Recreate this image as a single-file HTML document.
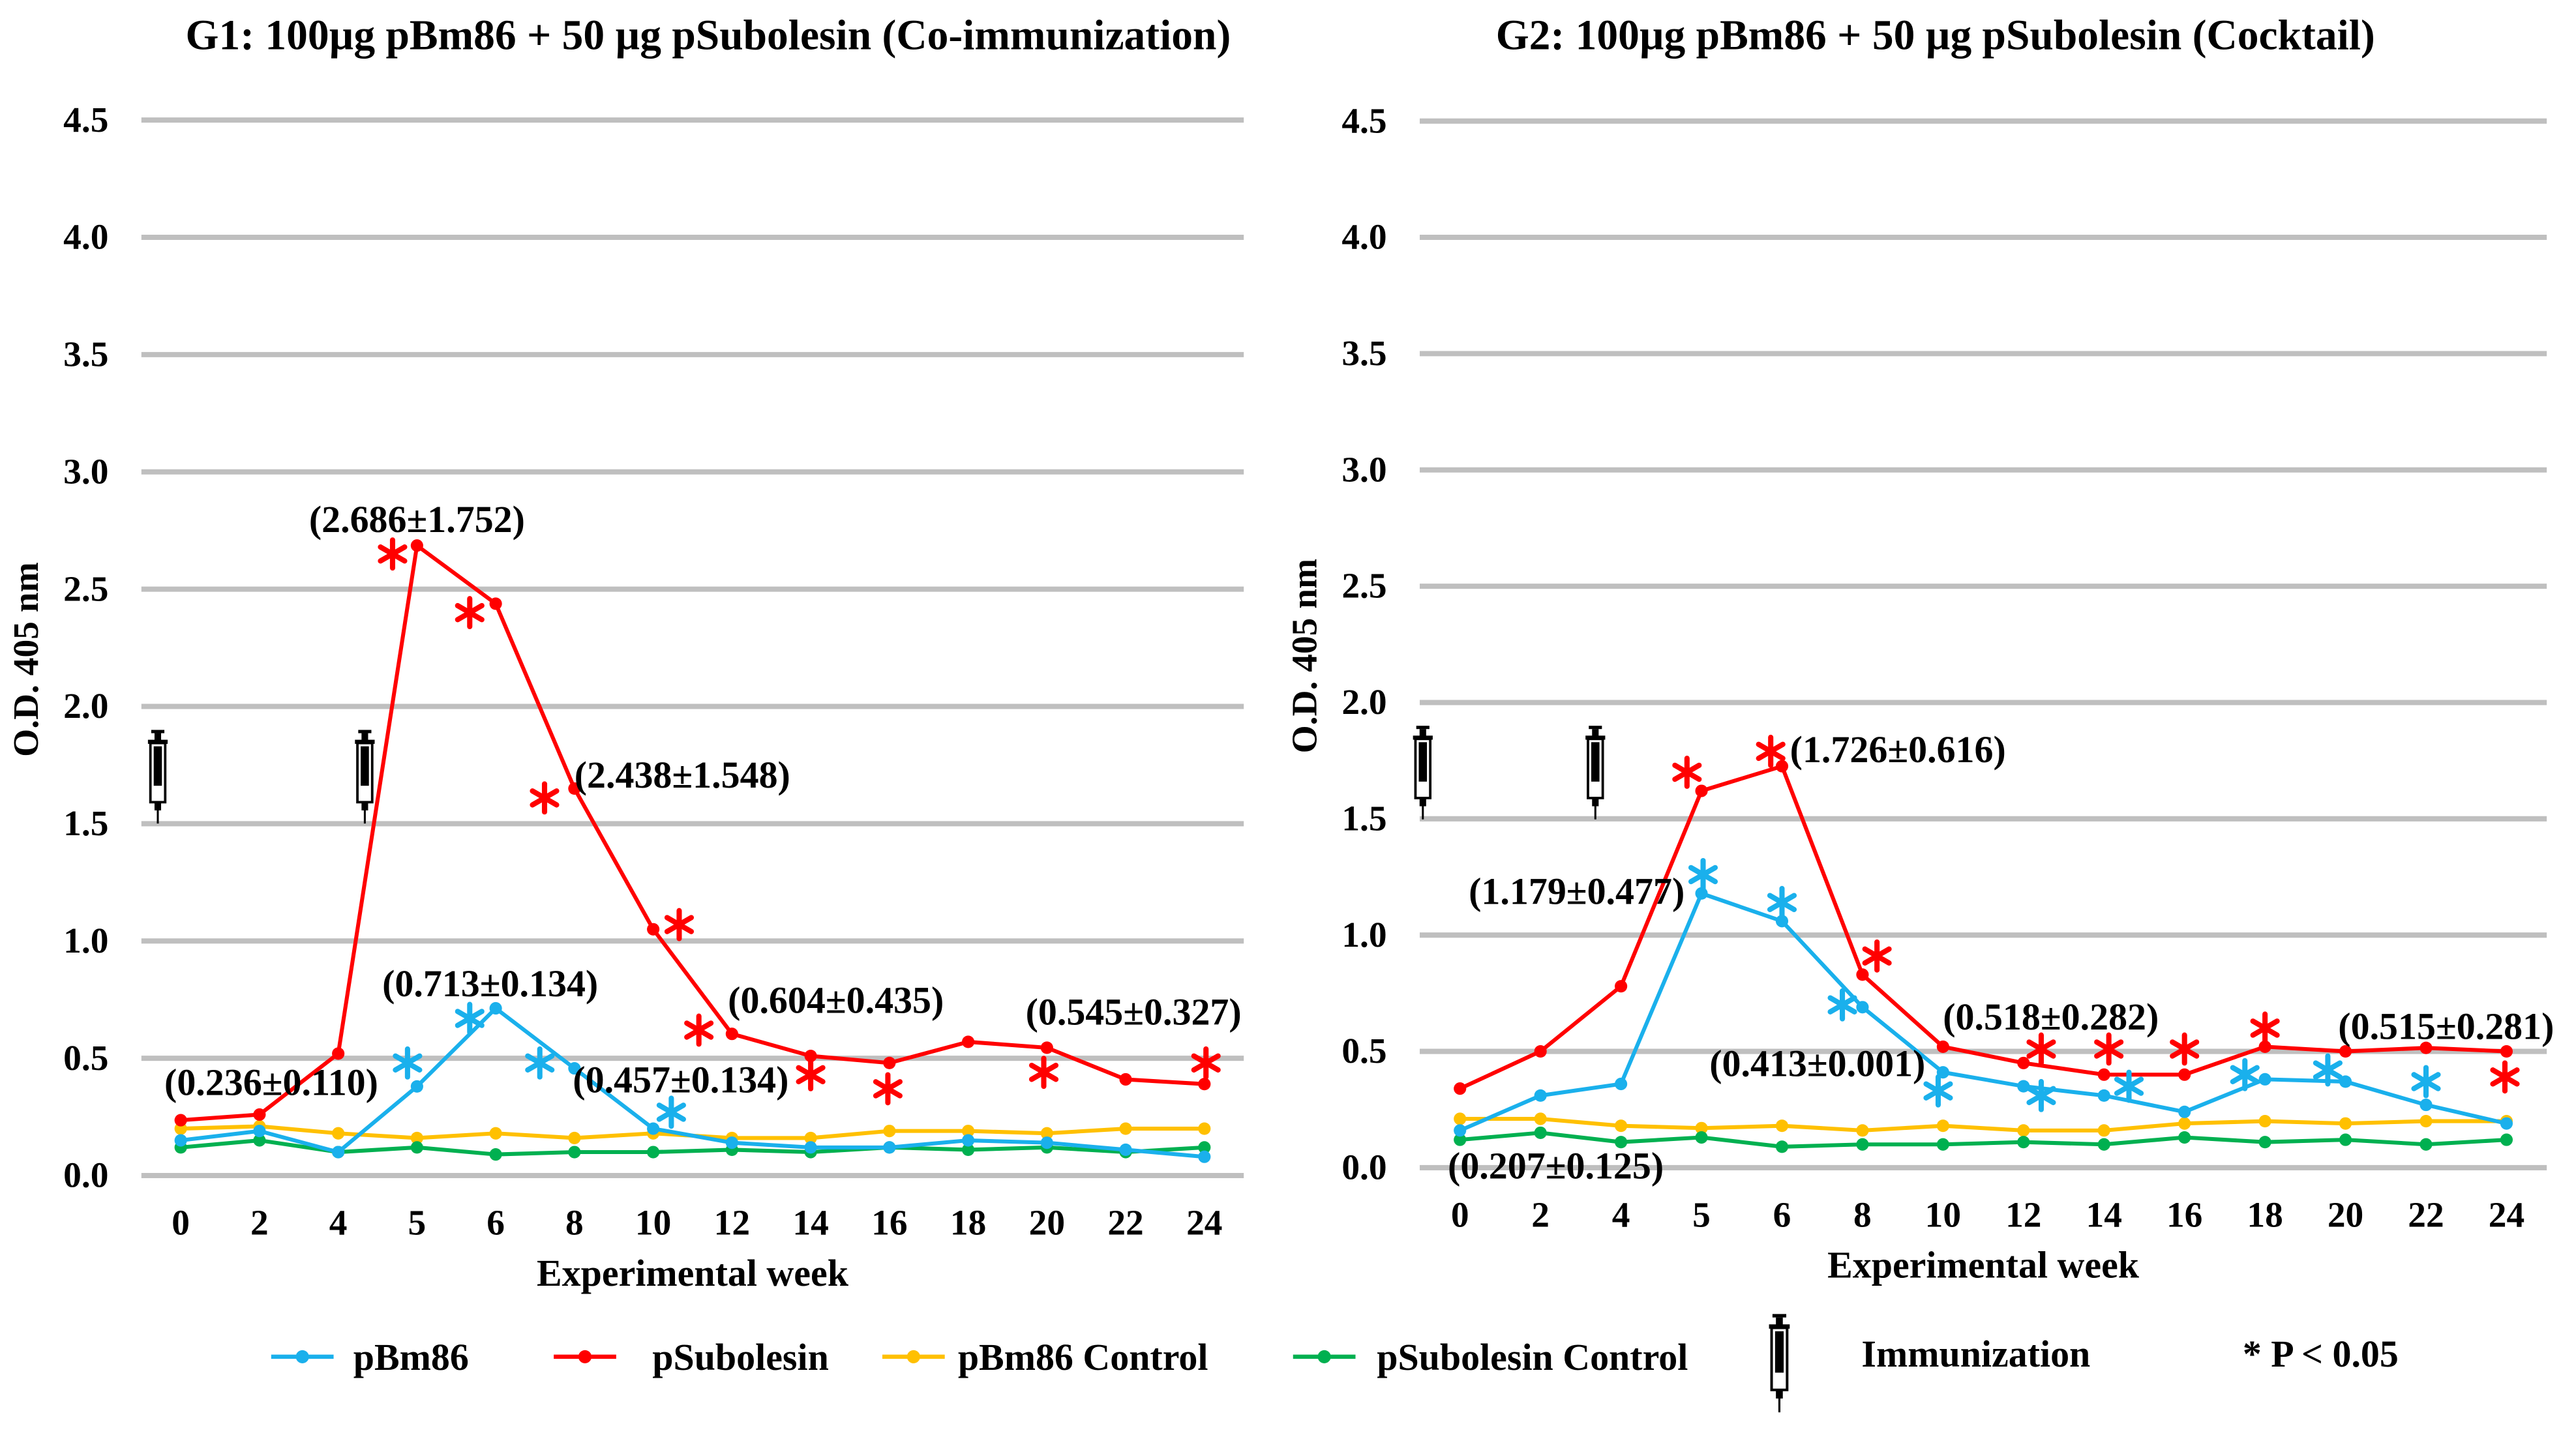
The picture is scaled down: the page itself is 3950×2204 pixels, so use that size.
<!DOCTYPE html>
<html><head><meta charset="utf-8"><style>
html,body{margin:0;padding:0;background:#fff;}
svg{display:block;font-family:"Liberation Serif",serif;font-weight:bold;}
</style></head><body>
<svg id="chart" xmlns="http://www.w3.org/2000/svg" width="3950" height="2204" viewBox="0 0 1560 870.5">
<g id="root" transform="scale(0.995)"></g>
</svg>
<script>
const weeks = ["0","2","4","5","6","8","10","12","14","16","18","20","22","24"];
const yTicks = [0,0.5,1,1.5,2,2.5,3,3.5,4,4.5];
const g1Bm86 = [0.15,0.19,0.10,0.38,0.713,0.457,0.20,0.14,0.12,0.12,0.15,0.14,0.11,0.08];
const g1Sub = [0.236,0.26,0.52,2.686,2.438,1.65,1.05,0.604,0.51,0.48,0.57,0.545,0.41,0.39];
const g1Bm86Ctl = [0.20,0.21,0.18,0.16,0.18,0.16,0.18,0.16,0.16,0.19,0.19,0.18,0.20,0.20];
const g1SubCtl = [0.12,0.15,0.10,0.12,0.09,0.10,0.10,0.11,0.10,0.12,0.11,0.12,0.10,0.12];
const g2Bm86 = [0.16,0.31,0.36,1.179,1.06,0.69,0.41,0.35,0.31,0.24,0.38,0.37,0.27,0.19];
const g2Sub = [0.34,0.50,0.78,1.62,1.726,0.83,0.52,0.45,0.40,0.40,0.52,0.50,0.515,0.50];
const g2Bm86Ctl = [0.21,0.21,0.18,0.17,0.18,0.16,0.18,0.16,0.16,0.19,0.20,0.19,0.20,0.20];
const g2SubCtl = [0.12,0.15,0.11,0.13,0.09,0.10,0.10,0.11,0.10,0.13,0.11,0.12,0.10,0.12];
// asterisk annotations: [category position, value]
const g1RedStars = [[2.69,2.65],[3.67,2.40],[4.62,1.61],[6.33,1.07],[6.58,0.62],[8,0.43],[8.98,0.37],[10.96,0.44],[13.02,0.48]];
const g1BlueStars = [[2.88,0.48],[3.67,0.67],[4.56,0.48],[6.23,0.27]];
const g2RedStars = [[2.82,1.70],[3.86,1.79],[5.18,0.91],[7.22,0.51],[8.06,0.51],[9,0.51],[10,0.60],[12.98,0.39]];
const g2BlueStars = [[3.02,1.26],[4,1.14],[4.75,0.70],[5.94,0.33],[7.22,0.31],[8.31,0.35],[9.75,0.40],[10.78,0.42],[12,0.37]];
const g1Labels = [[1.15,0.40,"(0.236±0.110)"],[3.0,2.80,"(2.686±1.752)"],[6.37,1.71,"(2.438±1.548)"],[3.93,0.82,"(0.713±0.134)"],[6.35,0.41,"(0.457±0.134)"],[8.32,0.75,"(0.604±0.435)"],[12.1,0.70,"(0.545±0.327)"]];
const g2Labels = [[1.19,0.01,"(0.207±0.125)"],[5.44,1.80,"(1.726±0.616)"],[1.45,1.19,"(1.179±0.477)"],[4.44,0.45,"(0.413±0.001)"],[7.34,0.65,"(0.518±0.282)"],[12.25,0.61,"(0.515±0.281)"]];

const NS="http://www.w3.org/2000/svg";
const root=document.getElementById('root');
function el(tag,attrs,parent,text){const e=document.createElementNS(NS,tag);for(const k in attrs)e.setAttribute(k,attrs[k]);if(text!==undefined)e.textContent=text;(parent||root).appendChild(e);return e;}
const COL={blue:"#1ab0ec",red:"#ff0000",yellow:"#ffc000",green:"#00b050"};

function syringe(x,y,parent,s){
  s=s||1;
  const g=el('g',{transform:`translate(${x},${y}) scale(${s})`},parent);
  
  
  el('rect',{x:-4,y:0,width:8,height:2,fill:"#000"},g);
  el('rect',{x:-2,y:2,width:4,height:5,fill:"#000"},g);
  el('rect',{x:-6,y:6,width:12,height:2.5,fill:"#000"},g);
  el('rect',{x:-4.5,y:8,width:9,height:36,fill:"#fff",stroke:"#000","stroke-width":1.5},g);
  el('rect',{x:-2.5,y:10,width:5,height:24,fill:"#000"},g);
  el('rect',{x:-2,y:44,width:4,height:5,fill:"#000"},g);
  el('rect',{x:-0.6,y:48,width:1.2,height:9,fill:"#000"},g);
}
function asterisk(cx,cy,c,parent){
  const g=el('g',{transform:`translate(${cx},${cy})`},parent);
  
  
  for(let k=0;k<3;k++){
    const a=Math.PI/2+k*Math.PI/3, r=8.5;
    el('line',{x1:-r*Math.cos(a),y1:-r*Math.sin(a),x2:r*Math.cos(a),y2:r*Math.sin(a),stroke:c,"stroke-width":3.2,"stroke-linecap":"round"},g);
  }
}

function panel(cfg){
  const g=el('g',{});
  
  
  const bw=(cfg.x1-cfg.x0)/weeks.length;
  const X=i=>cfg.x0+bw*(i+0.5);
  const Y=v=>cfg.y0-(v/4.5)*(cfg.y0-cfg.yTop);
  yTicks.forEach(t=>{
    const l=el('line',{x1:cfg.x0,x2:cfg.x1,y1:Y(t),y2:Y(t),stroke:"#bfbfbf","stroke-width":3.2},g);
    
    
    const tx=el('text',{x:cfg.x0-20,y:Y(t)+7,"text-anchor":"end","font-size":22},g,t.toFixed(1));
    
    
  });
  weeks.forEach((w,i)=>{
    const tx=el('text',{x:X(i),y:cfg.y0+36,"text-anchor":"middle","font-size":22},g,w);
    
    
  });
  const xt=el('text',{x:(cfg.x0+cfg.x1)/2+0,y:cfg.y0+67,"text-anchor":"middle","font-size":23},g,"Experimental week");
  
  
  const yt=el('text',{transform:`translate(${cfg.x0-63},${Y(2.2)}) rotate(-90)`,"text-anchor":"middle","font-size":22},g,"O.D. 405 nm");
  
  
  const tt=el('text',{x:cfg.titleX,y:30,"text-anchor":"middle","font-size":26},g,cfg.title);
  
  
  cfg.syr.forEach(sx=>syringe(sx,Y(1.9),g));
  const series=[[cfg.yellow,COL.yellow,'pbm86-control-line'],[cfg.green,COL.green,'psubolesin-control-line'],[cfg.blue,COL.blue,'pbm86-line'],[cfg.red,COL.red,'psubolesin-line']];
  series.forEach(([d,c,n])=>{
    const p=el('polyline',{points:d.map((v,i)=>X(i)+","+Y(v)).join(" "),fill:"none",stroke:c,"stroke-width":2.4},g);
    
    
    d.forEach((v,i)=>{
      const c2=el('circle',{cx:X(i),cy:Y(v),r:3.8,fill:c},g);
      
      
    });
  });
  cfg.redStars.forEach(([i,v])=>asterisk(X(i),Y(v),COL.red,g));
  cfg.blueStars.forEach(([i,v])=>asterisk(X(i),Y(v),COL.blue,g));
  cfg.labels.forEach(([i,v,t])=>{
    const s=el('text',{x:X(i),y:Y(v)+8,"text-anchor":"middle","font-size":23},g,t);
    
    
  });
}
panel({name:'g1-chart',x0:86,x1:757,y0:715.7,yTop:73.1,title:"G1: 100µg pBm86 + 50 µg pSubolesin (Co-immunization)",titleX:431,syr:[96,222],
  blue:g1Bm86,red:g1Sub,yellow:g1Bm86Ctl,green:g1SubCtl,redStars:g1RedStars,blueStars:g1BlueStars,labels:g1Labels});
panel({name:'g2-chart',x0:864.1,x1:1550.1,y0:710.9,yTop:73.7,title:"G2: 100µg pBm86 + 50 µg pSubolesin (Cocktail)",titleX:1178,syr:[866,971],
  blue:g2Bm86,red:g2Sub,yellow:g2Bm86Ctl,green:g2SubCtl,redStars:g2RedStars,blueStars:g2BlueStars,labels:g2Labels});

// legend
const lg=el('g',{});


[[165,"pBm86",COL.blue,215],[337,"pSubolesin",COL.red,397],[537,"pBm86 Control",COL.yellow,583],[787,"pSubolesin Control",COL.green,838]].forEach(([x,t,c,tx])=>{
  const e=el('g',{},lg);
  
  
  el('line',{x1:x,x2:x+38,y1:826,y2:826,stroke:c,"stroke-width":2.6},e);
  el('circle',{cx:x+19,cy:826,r:4,fill:c},e);
  el('text',{x:tx,y:834,"font-size":23},e,t);
});
syringe(1083,800,lg,1.05);
const im=el('text',{x:1133,y:832,"font-size":23},lg,"Immunization");


const pv=el('text',{x:1365,y:832,"font-size":23},lg,"* P < 0.05");


</script>
</body></html>
